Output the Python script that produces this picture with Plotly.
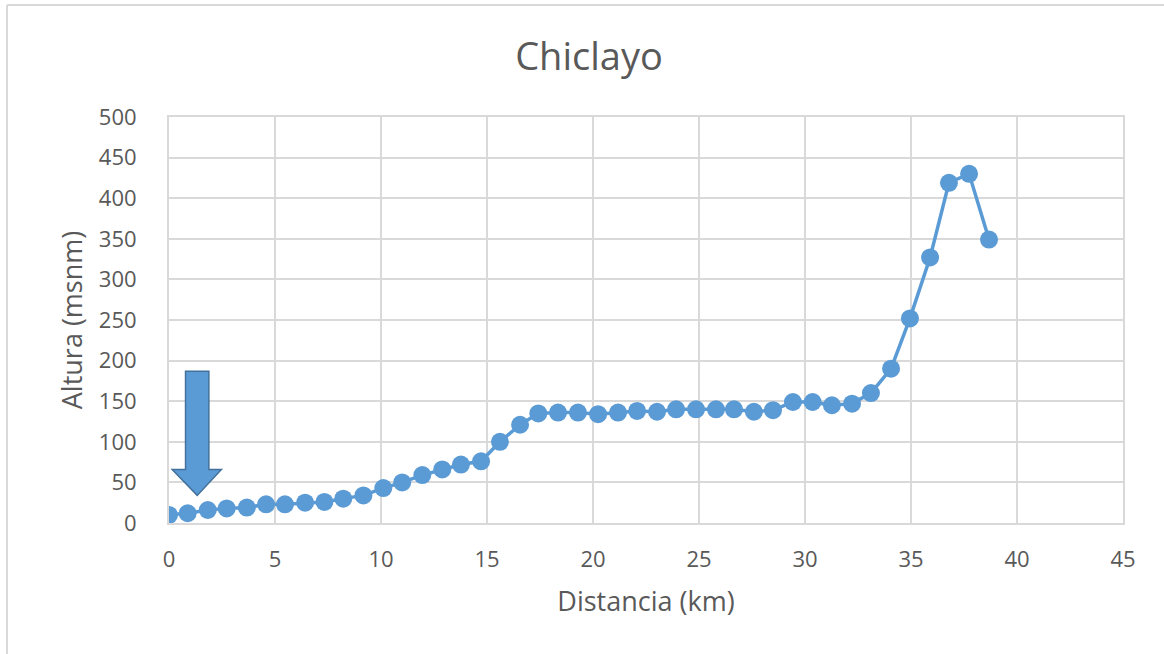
import plotly.graph_objects as go

# ---- data ----
distancia_km = [0, 0.88, 1.83, 2.72, 3.67, 4.58, 5.47, 6.42, 7.33, 8.22, 9.17, 10.11, 11.0,
                11.95, 12.89, 13.77, 14.72, 15.61, 16.56, 17.42, 18.35, 19.29, 20.24, 21.18,
                22.08, 23.02, 23.92, 24.86, 25.8, 26.65, 27.59, 28.49, 29.43, 30.36, 31.27,
                32.22, 33.11, 34.06, 34.95, 35.9, 36.79, 37.74, 38.68]
altura_msnm = [10, 12, 16, 18, 19, 23, 23, 25, 26, 30, 34, 43, 50, 59,
               66, 72, 76, 100, 121, 135, 136, 136, 134, 136, 138, 137,
               140, 140, 140, 140, 137, 139, 149, 149, 145, 147, 160, 190,
               252, 327, 419, 430, 349]
x_ticks = [0, 5, 10, 15, 20, 25, 30, 35, 40, 45]
y_ticks = [0, 50, 100, 150, 200, 250, 300, 350, 400, 450, 500]

W, H = 1164, 654
L, R, T, B = 169, 41, 117, 131
PW, PH = W - L - R, H - T - B

BLUE = "#5b9bd5"
GRID = "#d9d9d9"
TXT = "#595959"
FONT = "Open Sans"

fig = go.Figure()
fig.add_trace(go.Scatter(
    x=distancia_km, y=altura_msnm, mode="lines+markers",
    line=dict(color=BLUE, width=3.5),
    marker=dict(color=BLUE, size=18),
    showlegend=False, hoverinfo="x+y"))

# arrow annotation (shape)
arrow_path = ("M 0.78 187 L 1.88 187 L 1.88 66 L 2.47 66 L 1.33 34 "
              "L 0.15 66 L 0.78 66 Z")
shapes = [
    dict(type="path", path=arrow_path, xref="x", yref="y",
         fillcolor=BLUE, line=dict(color="#41719c", width=1.5), layer="above"),
    # chart frame (top and left edges visible)
    dict(type="line", xref="paper", yref="paper",
         x0=(7 - L) / PW, x1=(W + 10 - L) / PW,
         y0=1 + (T - 5) / PH, y1=1 + (T - 5) / PH,
         line=dict(color=GRID, width=2)),
    dict(type="line", xref="paper", yref="paper",
         x0=(7 - L) / PW, x1=(7 - L) / PW,
         y0=1 + (T - 5) / PH, y1=-(H + 5 - (H - B)) / PH,
         line=dict(color=GRID, width=2)),
]

fig.update_layout(
    width=W, height=H,
    margin=dict(l=L, r=R, t=T, b=B, autoexpand=False),
    paper_bgcolor="white", plot_bgcolor="white",
    font=dict(family=FONT, color=TXT),
    title=dict(text="Chiclayo", x=589 / W, xanchor="center", xref="container",
               y=1 - 57 / H, yanchor="middle", yref="container",
               font=dict(size=38, color=TXT, family=FONT)),
    xaxis=dict(range=[0, 45], tickvals=x_ticks, ticktext=[str(v) for v in x_ticks],
               showgrid=True, gridcolor=GRID, gridwidth=2,
               zeroline=False, showline=True, linecolor=GRID, linewidth=2, mirror=True,
               ticks="outside", ticklen=16, tickcolor="rgba(0,0,0,0)",
               tickfont=dict(size=22, color=TXT),
               title=dict(text="Distancia (km)", font=dict(size=27, color=TXT), standoff=20)),
    yaxis=dict(range=[0, 500], tickvals=y_ticks, ticktext=[str(v) for v in y_ticks],
               showgrid=True, gridcolor=GRID, gridwidth=2,
               zeroline=False, showline=True, linecolor=GRID, linewidth=2, mirror=True,
               ticks="outside", ticklen=26, tickcolor="rgba(0,0,0,0)",
               tickfont=dict(size=22, color=TXT),
               title=dict(text="Altura (msnm)", font=dict(size=27, color=TXT), standoff=8)),
    shapes=shapes,
)

fig.write_html("out.html",
               config={"displayModeBar": False},
               post_script="document.body.style.margin='0';document.body.style.overflow='hidden';")
